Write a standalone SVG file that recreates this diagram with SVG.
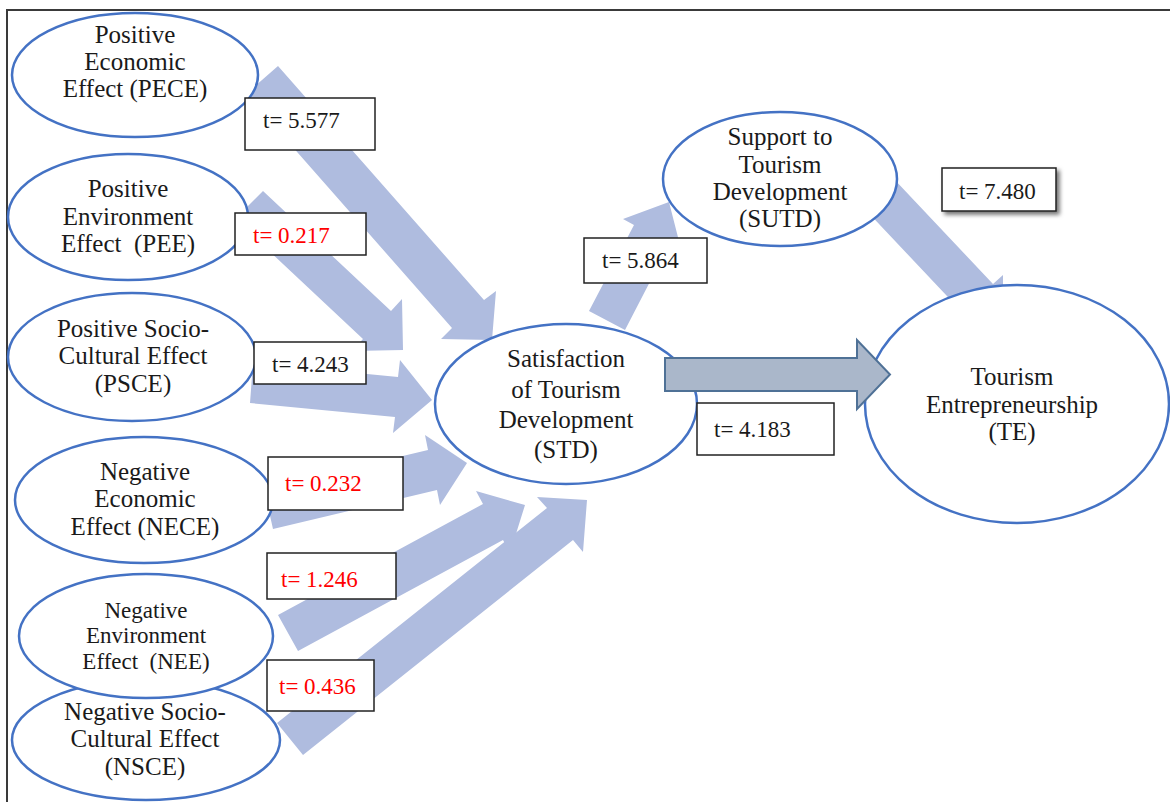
<svg xmlns="http://www.w3.org/2000/svg" width="1170" height="802" viewBox="0 0 1170 802">
<defs>
<style>
.frame{fill:none;stroke:#3a3a3a;stroke-width:2}
.arr{fill:#AFBCDF;stroke:none}
.arr9{fill:#AAB7CA;stroke:#4F7196;stroke-width:2;stroke-linejoin:miter}
.node{fill:#fff;stroke:#4472C4;stroke-width:2.5}
.lbl{font-family:"Liberation Serif","Times New Roman",serif;font-size:25px;fill:#1a1a1a;text-anchor:middle;white-space:pre}
.sm{font-size:23px}
.box{fill:#fff;stroke:#222;stroke-width:1.5}
.tv{font-family:"Liberation Serif","Times New Roman",serif;font-size:23px;fill:#1a1a1a}
.red{fill:#FF0000}
</style>
<filter id="shadow" x="-20%" y="-30%" width="140%" height="160%">
<feDropShadow dx="3" dy="3" stdDeviation="2" flood-color="#000" flood-opacity="0.55"/>
</filter>
</defs>
<rect x="0" y="0" width="1170" height="802" fill="#fff"/>
<path class="frame" d="M7,802 V10 H1170"/>
<g id="connectors">
<polygon class="arr" points="278,66 484,300 496,291 492,340 441,339 452,328 246,94"/>
<polygon class="arr" points="263,191 391,311 402,299 403,350 352,351 363,339 235,219"/>
<polygon class="arr" points="253,363 398,377 400,360 432,400 393,433 395,417 250,403"/>
<polygon class="arr" points="264,489 428,450 425,435 467,463 440,505 437,490 273,529"/>
<polygon class="arr" points="278,615 483,504 476,491 525,505 510,553 503,540 298,651"/>
<polygon class="arr" points="277,723 547,508 537,497 587,500 583,552 573,540 303,755"/>
<polygon class="arr" points="589,311 634,225 623,219 669,202 681,249 670,243 625,330"/>
<polygon class="arr" points="876,160 993,284 1003,275 1003,324 953,322 963,313 846,189"/>
</g>
<g id="PECE">
<ellipse class="node" cx="135" cy="75" rx="123" ry="62"/>
<text class="lbl" x="135" y="43">Positive</text>
<text class="lbl" x="135" y="70">Economic</text>
<text class="lbl" x="135" y="97">Effect (PECE)</text>
</g>
<g id="PEE">
<ellipse class="node" cx="128" cy="217" rx="120" ry="63"/>
<text class="lbl" x="128" y="197">Positive</text>
<text class="lbl" x="128" y="225">Environment</text>
<text class="lbl" x="128" y="252">Effect  (PEE)</text>
</g>
<g id="PSCE">
<ellipse class="node" cx="132" cy="357" rx="124" ry="64"/>
<text class="lbl" x="133" y="337">Positive Socio-</text>
<text class="lbl" x="133" y="364">Cultural Effect</text>
<text class="lbl" x="133" y="392">(PSCE)</text>
</g>
<g id="NECE">
<ellipse class="node" cx="144" cy="500" rx="129" ry="63"/>
<text class="lbl" x="145" y="480">Negative</text>
<text class="lbl" x="145" y="507">Economic</text>
<text class="lbl" x="145" y="535">Effect (NECE)</text>
</g>
<g id="NSCE">
<ellipse class="node" cx="146" cy="740" rx="134" ry="60"/>
<text class="lbl" x="145" y="720">Negative Socio-</text>
<text class="lbl" x="145" y="747">Cultural Effect</text>
<text class="lbl" x="145" y="775">(NSCE)</text>
</g>
<g id="NEE">
<ellipse class="node" cx="146" cy="636" rx="127" ry="62"/>
<text class="lbl sm" x="146" y="618">Negative</text>
<text class="lbl sm" x="146" y="643">Environment</text>
<text class="lbl sm" x="146" y="669">Effect  (NEE)</text>
</g>
<g id="STD">
<ellipse class="node" cx="566" cy="404" rx="131" ry="80"/>
<text class="lbl" x="566" y="367">Satisfaction</text>
<text class="lbl" x="566" y="398">of Tourism</text>
<text class="lbl" x="566" y="428">Development</text>
<text class="lbl" x="566" y="458">(STD)</text>
</g>
<g id="SUTD">
<ellipse class="node" cx="780" cy="179" rx="117" ry="67"/>
<text class="lbl" x="780" y="145">Support to</text>
<text class="lbl" x="780" y="173">Tourism</text>
<text class="lbl" x="780" y="200">Development</text>
<text class="lbl" x="780" y="227">(SUTD)</text>
</g>
<g id="TE">
<ellipse class="node" cx="1017" cy="404" rx="152" ry="119"/>
<text class="lbl" x="1012" y="385">Tourism</text>
<text class="lbl" x="1012" y="413">Entrepreneurship</text>
<text class="lbl" x="1012" y="440">(TE)</text>
</g>
<g id="STD-TE-arrow">
<polygon class="arr9" points="665,358 857,358 857,340 890,374.5 857,409 857,391 665,391"/>
</g>
<g id="labels">
<g id="t-PECE"><rect class="box" x="245" y="98" width="130" height="52"/><text class="tv" x="263" y="128">t= 5.577</text></g>
<g id="t-PEE"><rect class="box" x="235" y="213" width="131" height="42"/><text class="tv red" x="253" y="243">t= 0.217</text></g>
<g id="t-PSCE"><rect class="box" x="254" y="342" width="112" height="42"/><text class="tv" x="272" y="372">t= 4.243</text></g>
<g id="t-NECE"><rect class="box" x="268" y="457" width="135" height="53"/><text class="tv red" x="285" y="491">t= 0.232</text></g>
<g id="t-NEE"><rect class="box" x="267" y="553" width="129" height="46"/><text class="tv red" x="281" y="587">t= 1.246</text></g>
<g id="t-NSCE"><rect class="box" x="267" y="660" width="107" height="51"/><text class="tv red" x="279" y="694">t= 0.436</text></g>
<g id="t-SUTD"><rect class="box" x="584" y="238" width="123" height="45"/><text class="tv" x="602" y="268">t= 5.864</text></g>
<g id="t-TE"><rect class="box" x="697" y="403" width="137" height="52"/><text class="tv" x="714" y="437">t= 4.183</text></g>
<g id="t-SUTD-TE"><rect class="box" x="942" y="168" width="114" height="43" filter="url(#shadow)"/><text class="tv" x="959" y="199">t= 7.480</text></g>
</g>
</svg>
